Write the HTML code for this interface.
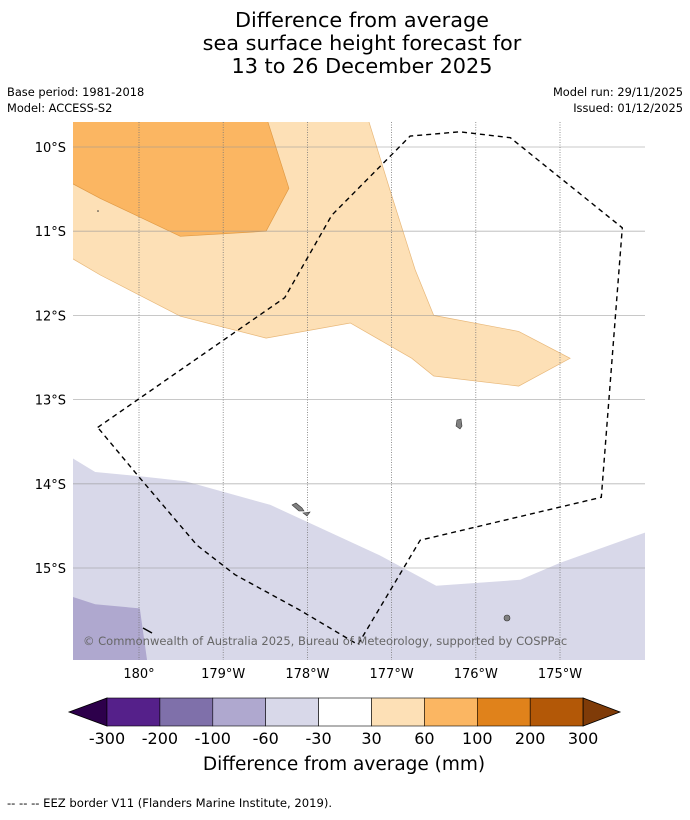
<!DOCTYPE html>
<html><head><meta charset="utf-8"><style>
html,body{margin:0;padding:0;background:#fff;}
body{width:690px;height:816px;overflow:hidden;font-family:"DejaVu Sans","Liberation Sans",sans-serif;}
</style></head><body>
<svg id="chart" width="690" height="816" viewBox="0 0 690 816" xmlns="http://www.w3.org/2000/svg" font-family="DejaVu Sans, Liberation Sans, sans-serif">
<g font-size="20.8" text-anchor="middle" fill="#000">
<text x="362" y="27">Difference from average</text>
<text x="362" y="50">sea surface height forecast for</text>
<text x="362" y="73">13 to 26 December 2025</text>
</g>
<g font-size="11.4" fill="#000">
<text x="7" y="96">Base period: 1981-2018</text>
<text x="7" y="112">Model: ACCESS-S2</text>
<text x="683" y="96" text-anchor="end">Model run: 29/11/2025</text>
<text x="683" y="112" text-anchor="end">Issued: 01/12/2025</text>
</g>
<defs><clipPath id="mapclip"><rect x="73" y="122" width="572" height="538"/></clipPath></defs>
<g id="map" clip-path="url(#mapclip)"></g>
<g id="axes"></g>
<g id="cbar"></g>
<text x="344" y="770" font-size="18.5" text-anchor="middle">Difference from average (mm)</text>
<text x="7" y="807" font-size="11.6">--  --  -- EEZ border V11 (Flanders Marine Institute, 2019).</text>
</svg>
<script>
// Map extent & data (lon in degrees east, 180+ = west of dateline; lat in degrees south)
const latTicks=[10,11,12,13,14,15];
const latLabels=["10°S","11°S","12°S","13°S","14°S","15°S"];
const lonTicks=[180,181,182,183,184,185];
const lonLabels=["180°","179°W","178°W","177°W","176°W","175°W"];
const region30to60=[[179.2,9.7],[182.73,9.7],[182.98,10.51],[183.28,11.46],[183.5,12.0],[184.51,12.19],[185.12,12.51],[184.51,12.84],[183.5,12.72],[183.24,12.51],[182.51,12.09],[181.51,12.27],[180.49,12.01],[179.54,11.52],[179.2,11.32]];
const region60to100=[[179.2,9.7],[181.53,9.7],[181.78,10.49],[181.51,11.0],[180.49,11.06],[179.54,10.61],[179.2,10.43]];
const regionM30toM60=[[179.2,13.69],[179.48,13.86],[180.01,13.91],[180.55,13.97],[181.56,14.25],[182.86,14.85],[183.53,15.21],[184.53,15.14],[185.0,14.94],[186.01,14.58],[186.1,14.57],[186.1,16.2],[179.2,16.2]];
const regionM60toM100=[[179.2,15.34],[179.48,15.43],[180.01,15.48],[180.11,16.2],[179.2,16.2]];
const eezBorder=[[179.51,13.33],[181.73,11.79],[182.29,10.81],[183.22,9.87],[183.81,9.82],[184.41,9.89],[185.74,10.96],[185.49,14.16],[183.34,14.67],[182.6,15.91],[181.91,15.5],[181.14,15.08],[180.69,14.73],[180.01,13.93],[179.51,13.33]];
const cbBounds=["-300","-200","-100","-60","-30","30","60","100","200","300"];
const cbColors=["#55208a","#7f70aa","#afa8cf","#d8d8e9","#ffffff","#fde0b6","#fbb662","#e0821b","#b35807"];

const X=lon=>139+(lon-180)*84.2;
const Y=lat=>147+(lat-10)*84.2;
const NS="http://www.w3.org/2000/svg";
function mk(tag,attrs,parent){const e=document.createElementNS(NS,tag);for(const k in attrs)e.setAttribute(k,attrs[k]);parent.appendChild(e);return e;}
const map=document.getElementById('map');
const pts=a=>a.map(p=>X(p[0]).toFixed(1)+","+Y(p[1]).toFixed(1)).join(" ");
let p;
p=mk('polygon',{points:pts(region30to60),fill:'#fde0b6',stroke:'#e8b87a','stroke-width':0.7},map);


p=mk('polygon',{points:pts(region60to100),fill:'#fbb662',stroke:'#e09a45','stroke-width':0.7},map);


p=mk('polygon',{points:pts(regionM30toM60),fill:'#d8d8e9'},map);


p=mk('polygon',{points:pts(regionM60toM100),fill:'#afa8cf'},map);


latTicks.forEach(l=>{const g=mk('line',{x1:73,x2:645,y1:Y(l),y2:Y(l),stroke:'#999','stroke-width':0.8,'stroke-opacity':0.7},map);

});
lonTicks.forEach(l=>{const g=mk('line',{x1:X(l),x2:X(l),y1:122,y2:660,stroke:'#777','stroke-width':0.8,'stroke-dasharray':'1,1.5'},map);

});
// islands
const isl=[[mk('polygon',{points:"457,420 461,419 462,426 460,429 456,426",fill:'#808080',stroke:'#333','stroke-width':0.6},map),'island-niuafoou'],
[mk('polygon',{points:"292,505 296,503 302,508 304,511 299,511",fill:'#808080',stroke:'#333','stroke-width':0.6},map),'island-wallis'],
[mk('polygon',{points:"303,513 310,512 307,516",fill:'#808080',stroke:'#333','stroke-width':0.6},map),'island-islet'],
[mk('circle',{cx:507,cy:618,r:3,fill:'#808080',stroke:'#333','stroke-width':0.6},map),'island-south'],
[mk('circle',{cx:98,cy:211,r:0.8,fill:'#333'},map),'island-dot']];
isl.forEach(([e,n])=>{
});
p=mk('polyline',{points:pts(eezBorder),fill:'none',stroke:'#000','stroke-width':1.4,'stroke-dasharray':'5,4'},map);


p=mk('line',{x1:143,y1:628,x2:152,y2:633,stroke:'#000','stroke-width':1.4},map);


const t=mk('text',{x:83,y:645,'font-size':11.5,fill:'#666'},map);t.textContent="© Commonwealth of Australia 2025, Bureau of Meteorology, supported by COSPPac";


// axes labels
const axes=document.getElementById('axes');
latTicks.forEach((l,i)=>{const e=mk('text',{x:66,y:Y(l)+5,'font-size':13,'text-anchor':'end'},axes);e.textContent=latLabels[i];

});
lonTicks.forEach((l,i)=>{const e=mk('text',{x:X(l),y:678,'font-size':13,'text-anchor':'middle'},axes);e.textContent=lonLabels[i];

});
// colorbar
const cb=document.getElementById('cbar');
const cx0=107,cw=52.9,cy0=698,ch=28;
let a=mk('polygon',{points:`${cx0},${cy0} ${cx0},${cy0+ch} 69,${cy0+ch/2}`,fill:'#2d004b',stroke:'#000','stroke-width':0.8},cb);


cbColors.forEach((c,i)=>{const r=mk('rect',{x:cx0+i*cw,y:cy0,width:cw,height:ch,fill:c,stroke:'#000','stroke-width':0.6},cb);

});
const xe=cx0+cbColors.length*cw;
a=mk('polygon',{points:`${xe},${cy0} ${xe},${cy0+ch} 620,${cy0+ch/2}`,fill:'#7f3b08',stroke:'#000','stroke-width':0.8},cb);


cbBounds.forEach((b,i)=>{const e=mk('text',{x:cx0+i*cw,y:744,'font-size':16,'text-anchor':'middle'},cb);e.textContent=b;

});
</script>
</body></html>
